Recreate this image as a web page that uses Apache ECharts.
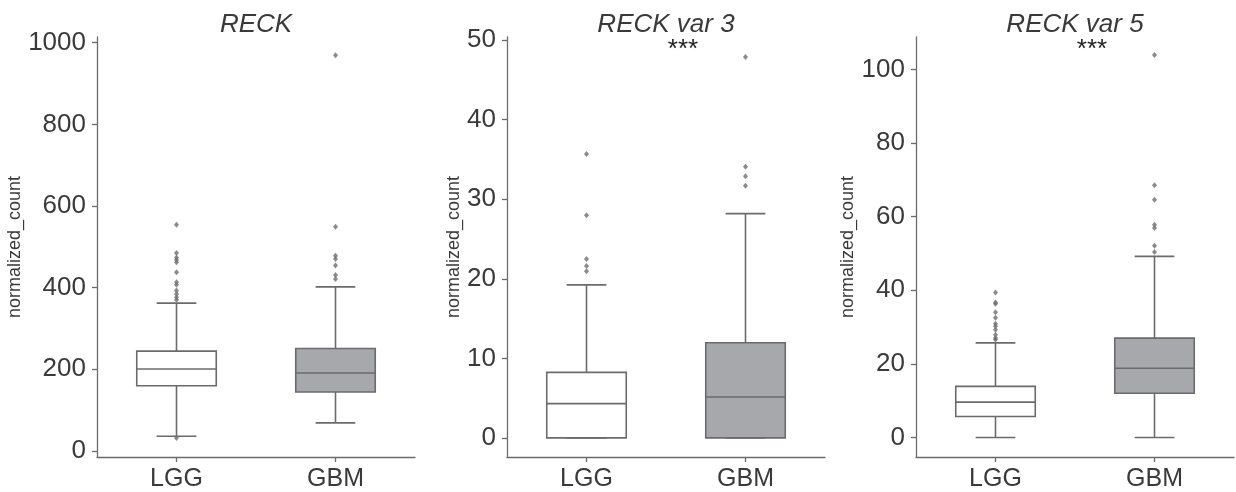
<!DOCTYPE html>
<html>
<head>
<meta charset="utf-8">
<script src="https://cdn.jsdelivr.net/npm/echarts@6/dist/echarts.min.js"></script>
<style>
html,body{margin:0;padding:0;background:#fff;}
#chart{width:1236px;height:492px;}
</style>
</head>
<body>
<div id="chart"></div>
<script>
// ---- data ----
const categories = ['LGG', 'GBM'];
const panelTitles = ['RECK', 'RECK var 3', 'RECK var 5'];
const significance = ['', '***', '***'];

// [min whisker, Q1, median, Q3, max whisker] per category
const reckBox = [[35.7, 159.7, 200.5, 244.5, 361.9], [68.5, 144.3, 190.7, 251, 401.7]];
const reckOutLGG = [554, 485, 474, 468, 462, 437.6, 413, 407, 392.7, 384.6, 376.5, 370, 31.7];
const reckOutGBM = [969, 549, 478, 470, 454, 431, 421];

const var3Box = [[0, 0, 4.31, 8.24, 19.24], [0, 0, 5.14, 11.96, 28.2]];
const var3OutLGG = [35.7, 28.0, 22.5, 21.6, 20.95];
const var3OutGBM = [47.9, 34.1, 32.9, 31.7];

const var5Box = [[0, 5.7, 9.6, 13.9, 25.7], [0, 12.0, 18.8, 27.0, 49.2]];
const var5OutLGG = [39.4, 36.7, 36.3, 34.0, 32.5, 30.9, 30.2, 29.3, 27.9, 27.0, 26.6];
const var5OutGBM = [103.9, 68.5, 64.6, 57.8, 56.9, 52.1, 50.4];

const reckTicks = [0, 200, 400, 600, 800, 1000];
const var3Ticks = [0, 10, 20, 30, 40, 50];
const var5Ticks = [0, 20, 40, 60, 80, 100];

const yRanges = [[-15, 1014], [-2.4, 50.4], [-5.3, 108.8]];

// ---- styling ----
const FONT = '"Liberation Sans", Arial, Helvetica, sans-serif';
const LINE = '#6b6b6b';
const TEXT = '#3a3a3a';
const fills = ['#ffffff', '#a7a8ac'];

const panels = [
  { box: reckBox, out: [reckOutLGG, reckOutGBM], ticks: reckTicks, left: 97, nameGap: 70 },
  { box: var3Box, out: [var3OutLGG, var3OutGBM], ticks: var3Ticks, left: 507, nameGap: 41 },
  { box: var5Box, out: [var5OutLGG, var5OutGBM], ticks: var5Ticks, left: 916, nameGap: 59 }
];
const GW = 318, GTOP = 37, GH = 420;

const grid = [], xAxis = [], yAxis = [], series = [], graphic = [];

function renderBox(params, api) {
  const c = api.value(0);
  const bw = api.size([1, 0])[0];
  const hw = bw * 0.25, cw = bw * 0.125;
  const pMin = api.coord([c, api.value(1)]);
  const pQ1 = api.coord([c, api.value(2)]);
  const pMed = api.coord([c, api.value(3)]);
  const pQ3 = api.coord([c, api.value(4)]);
  const pMax = api.coord([c, api.value(5)]);
  const x = pMed[0];
  const ls = { stroke: LINE, lineWidth: 1.6 };
  return {
    type: 'group',
    children: [
      { type: 'line', shape: { x1: x, y1: pQ3[1], x2: x, y2: pMax[1] }, style: ls },
      { type: 'line', shape: { x1: x, y1: pQ1[1], x2: x, y2: pMin[1] }, style: ls },
      { type: 'line', shape: { x1: x - cw, y1: pMax[1], x2: x + cw, y2: pMax[1] }, style: ls },
      { type: 'line', shape: { x1: x - cw, y1: pMin[1], x2: x + cw, y2: pMin[1] }, style: ls },
      { type: 'rect', shape: { x: x - hw, y: pQ3[1], width: 2 * hw, height: pQ1[1] - pQ3[1] },
        style: { fill: fills[c], stroke: LINE, lineWidth: 1.6 } },
      { type: 'line', shape: { x1: x - hw, y1: pMed[1], x2: x + hw, y2: pMed[1] }, style: ls }
    ]
  };
}

panels.forEach((p, i) => {
  grid.push({ left: p.left, top: GTOP, width: GW, height: GH, containLabel: false });
  xAxis.push({
    type: 'category', gridIndex: i, data: categories, boundaryGap: true,
    axisLine: { show: true, onZero: false, lineStyle: { color: LINE, width: 1.3 } },
    axisTick: { show: true, alignWithLabel: true, length: 5, lineStyle: { color: LINE, width: 1.3 } },
    axisLabel: { fontSize: 25, color: TEXT, fontFamily: FONT, margin: 10 },
    splitLine: { show: false }
  });
  yAxis.push({
    type: 'value', gridIndex: i, min: yRanges[i][0], max: yRanges[i][1],
    name: 'normalized_count', nameLocation: 'middle', nameGap: p.nameGap,
    nameTextStyle: { fontSize: 18, color: TEXT, fontFamily: FONT },
    axisLine: { show: true, onZero: false, lineStyle: { color: LINE, width: 1.3 } },
    axisTick: { show: true, length: 5, customValues: p.ticks, lineStyle: { color: LINE, width: 1.3 } },
    axisLabel: { fontSize: 26, color: TEXT, fontFamily: FONT, margin: 11, customValues: p.ticks,
      formatter: v => String(v), showMinLabel: true, showMaxLabel: true },
    splitLine: { show: false }
  });
  series.push({
    type: 'custom', xAxisIndex: i, yAxisIndex: i,
    renderItem: renderBox,
    data: p.box.map((b, k) => [k].concat(b)),
    z: 2
  });
  const outData = [];
  p.out.forEach((arr, k) => arr.forEach(v => outData.push([k, v])));
  series.push({
    type: 'scatter', xAxisIndex: i, yAxisIndex: i,
    data: outData, symbol: 'diamond', symbolSize: [5, 6],
    itemStyle: { color: '#6e6e6e' }, z: 3
  });
  const cx = p.left + GW / 2;
  graphic.push({
    type: 'text', x: cx, y: 25,
    style: { text: panelTitles[i], fill: TEXT, font: 'italic 26px ' + FONT,
      textAlign: 'center', textVerticalAlign: 'middle' }
  });
  if (significance[i]) {
    graphic.push({
      type: 'text', x: cx + 17, y: 50,
      style: { text: significance[i], fill: '#222', font: '26px ' + FONT,
        textAlign: 'center', textVerticalAlign: 'middle' }
    });
  }
});

const chart = echarts.init(document.getElementById('chart'), null, { renderer: 'canvas' });
chart.setOption({
  animation: false,
  backgroundColor: '#ffffff',
  grid, xAxis, yAxis, series, graphic
});
</script>
</body>
</html>
